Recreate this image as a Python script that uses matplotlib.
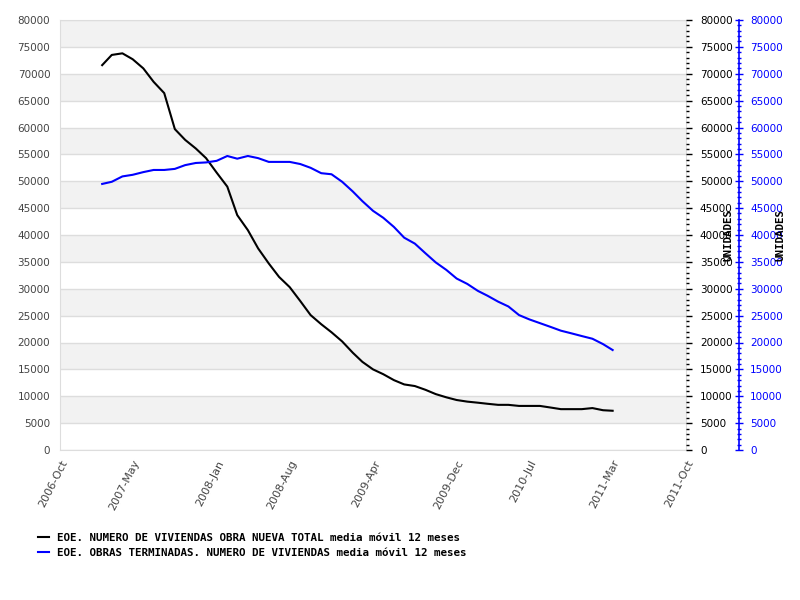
import matplotlib
matplotlib.use('Agg')
import matplotlib.pyplot as plt
from matplotlib.ticker import MultipleLocator
import pandas as pd

# monthly series, 2007-Feb .. 2011-Mar
months = pd.date_range('2007-02-01', '2011-03-01', freq='MS')

obra_nueva = [71600, 73500, 73800, 72700, 71000, 68500, 66400, 59700, 57700, 56100,
              54300, 51600, 49000, 43700, 40900, 37500, 34700, 32200, 30300, 27700,
              25100, 23400, 21900, 20200, 18100, 16400, 15000, 14100, 13000, 12200,
              11900, 11200, 10400, 9800, 9300, 9000, 8800, 8600, 8400, 8400,
              8200, 8200, 8200, 7900, 7600, 7600, 7600, 7800, 7400, 7300]

terminadas = [49500, 49900, 50900, 51200, 51700, 52100, 52100, 52300, 53000, 53400,
              53500, 53800, 54700, 54200, 54700, 54300, 53600, 53600, 53600, 53200,
              52500, 51500, 51300, 49900, 48100, 46300, 44500, 43200, 41500, 39500,
              38400, 36600, 34900, 33500, 31900, 30900, 29600, 28700, 27600, 26700,
              25100, 24300, 23600, 22900, 22200, 21700, 21200, 20700, 19700, 18600]

tick_dates = ['2006-10-01', '2007-05-01', '2008-01-01', '2008-08-01', '2009-04-01',
              '2009-12-01', '2010-07-01', '2011-03-01', '2011-10-01']
tick_labels = ['2006-Oct', '2007-May', '2008-Jan', '2008-Aug', '2009-Apr',
               '2009-Dec', '2010-Jul', '2011-Mar', '2011-Oct']

label_1 = 'EOE. NUMERO DE VIVIENDAS OBRA NUEVA TOTAL media móvil 12 meses'
label_2 = 'EOE. OBRAS TERMINADAS. NUMERO DE VIVIENDAS media móvil 12 meses'

mono = {'family': 'DejaVu Sans Mono', 'weight': 'bold', 'size': 7.8}

fig = plt.figure(figsize=(8, 6), dpi=100)
ax = fig.add_axes([60/800, 150/600, 626/800, 430/600])

# alternating background bands + grid
for lo in range(5000, 80000, 10000):
    ax.axhspan(lo, lo + 5000, color='#f2f2f2', zorder=0, lw=0)
ax.set_ylim(0, 80000)
ax.yaxis.set_major_locator(MultipleLocator(5000))
ax.grid(axis='y', color='#dddddd', lw=1)
ax.set_axisbelow(True)
for s in ax.spines.values():
    s.set_color('#dddddd')
ax.tick_params(axis='y', length=0, labelsize=7.5, labelcolor='#444444', pad=7)

ax.set_xlim(pd.Timestamp('2006-10-01'), pd.Timestamp('2011-10-01'))
ax.set_xticks(pd.to_datetime(tick_dates))
ax.set_xticklabels(tick_labels, rotation=63, ha='right', rotation_mode='anchor',
                   fontsize=8, color='#444444')
ax.tick_params(axis='x', length=0, pad=6)

l1, = ax.plot(months, obra_nueva, color='black', lw=1.5, zorder=3)
l2, = ax.plot(months, terminadas, color='blue', lw=1.5, zorder=3)

# first right axis (black)
ax2 = ax.twinx()
ax2.set_ylim(0, 80000)
ax2.yaxis.set_major_locator(MultipleLocator(5000))
ax2.yaxis.set_minor_locator(MultipleLocator(1000))
for s in ax2.spines.values():
    s.set_visible(False)
ax2.tick_params(axis='y', which='major', length=4, width=1, labelsize=7.5, colors='black', pad=6)
ax2.tick_params(axis='y', which='minor', length=2, width=1, colors='black')
ax2.set_ylabel('UNIDADES', fontdict=mono)
ax2.yaxis.set_label_coords((724 - 60) / 626, 0.5)

# second right axis (blue)
ax3 = ax.twinx()
ax3.set_ylim(0, 80000)
ax3.spines['right'].set_position(('axes', (739 - 60) / 626))
for k in ['top', 'left', 'bottom']:
    ax3.spines[k].set_visible(False)
ax3.spines['right'].set_color('blue')
ax3.spines['right'].set_linewidth(1.2)
ax3.yaxis.set_major_locator(MultipleLocator(5000))
ax3.yaxis.set_minor_locator(MultipleLocator(1000))
ax3.tick_params(axis='y', which='major', direction='inout', length=6, width=1,
                labelsize=7.5, colors='blue', pad=5)
ax3.tick_params(axis='y', which='minor', direction='inout', length=3, width=1, colors='blue')
ax3.set_ylabel('UNIDADES', fontdict=mono)
ax3.yaxis.set_label_coords((775 - 60) / 626, 0.5)

fig.legend([l1, l2], [label_1, label_2], loc='upper left',
           bbox_to_anchor=(28/800, 1 - 523/600), frameon=False, prop=mono,
           handlelength=1.0, handletextpad=0.8, labelspacing=0.45)

fig.savefig('out.png', dpi=100)
